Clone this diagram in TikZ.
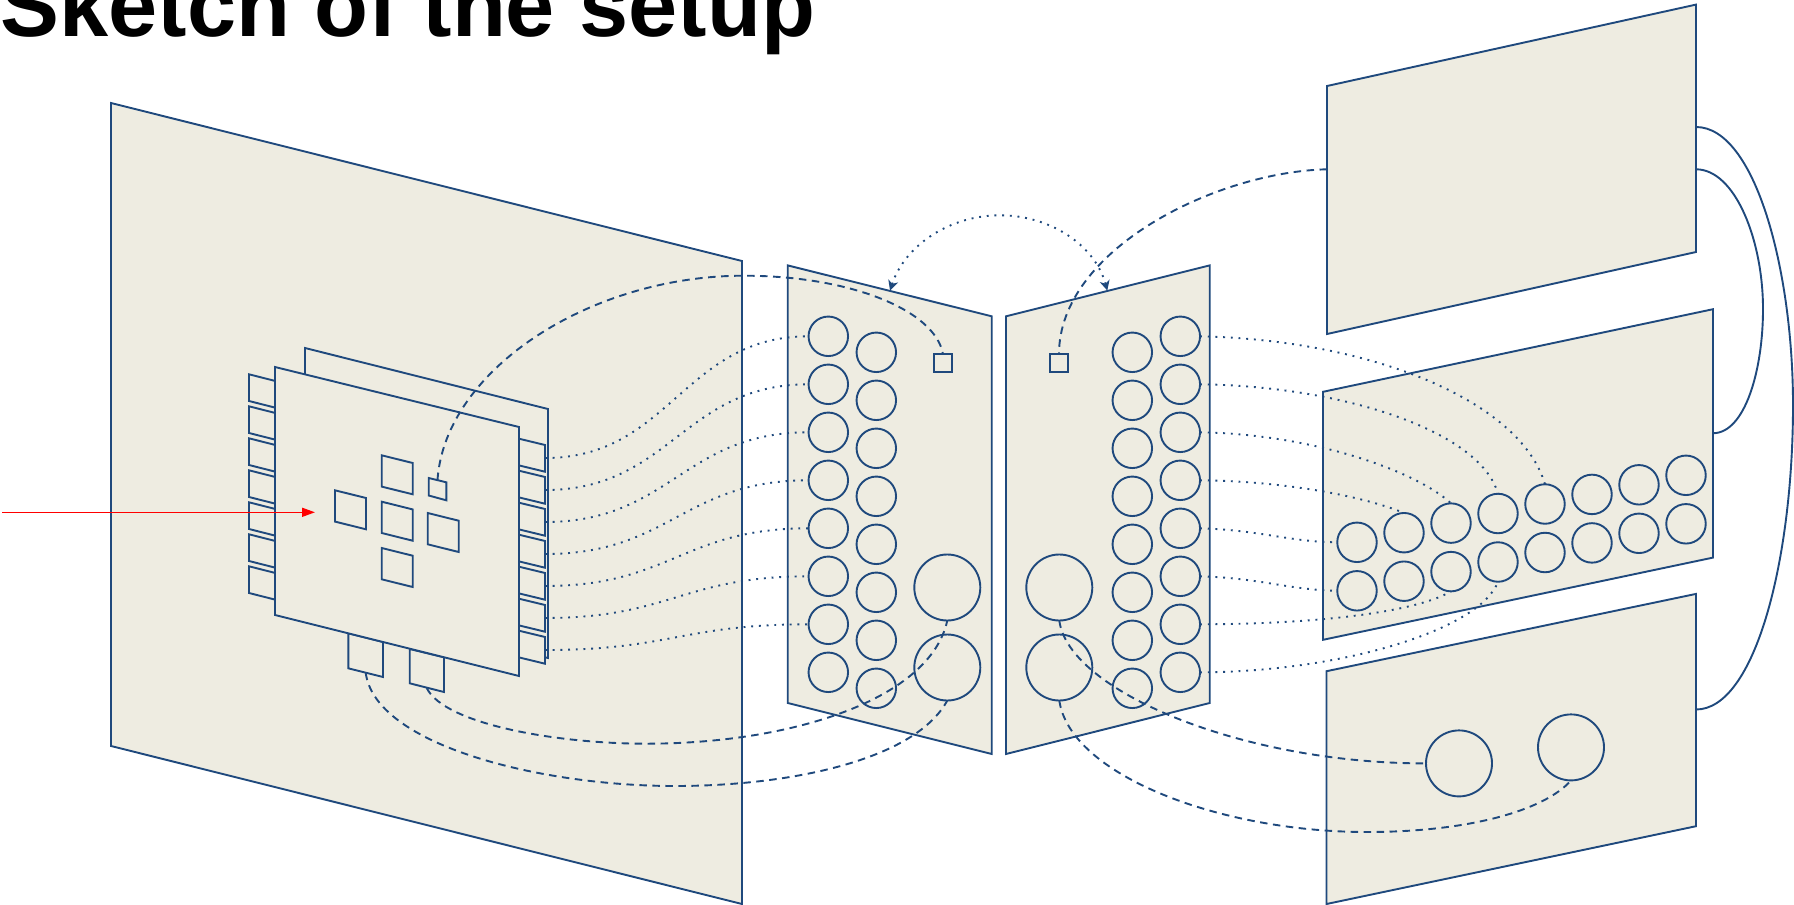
\documentclass[tikz,border=0pt]{standalone}
\usepackage{fontspec}
\setmainfont{Liberation Sans}
\usetikzlibrary{positioning, arrows.meta}
\definecolor{navy}{HTML}{1F497D}
\definecolor{paper}{HTML}{EEECE1}
\tikzset{
  panel/.style   = {draw=navy, fill=paper, line width=1.9pt},
  disc/.style    = {circle, draw=navy, line width=1.9pt, minimum size=39.5pt, inner sep=0pt, outer sep=0pt},
  bigdisc/.style = {disc, minimum size=66pt},
  port/.style    = {rectangle, draw=navy, line width=1.9pt, minimum width=18pt, minimum height=17.5pt, inner sep=0pt, outer sep=0pt},
  dashline/.style = {draw=navy, line width=1.9pt, dash pattern=on 7.5pt off 5.5pt},
  dotline/.style  = {draw=navy, line width=1.9pt, dash pattern=on 1.9pt off 5.8pt},
  wire/.style     = {draw=navy, line width=1.9pt}
}

\begin{document}
\begin{tikzpicture}[x=1pt, y=-1pt]
  \useasboundingbox (0,0) rectangle (1794,905);
  \node[anchor=base west, inner sep=0pt, font=\fontsize{88.3}{88.3}\selectfont\bfseries] (title) at (0.5,36) {Sketch of the setup};

  % large sheet and the stack on it
  \draw[panel] (111,103) -- (742,261) -- (742,904) -- (111,746) -- cycle;
  \draw[panel] (305,348) -- (548,409) -- (548,658) -- (305,597) -- cycle;
  \foreach \i in {1,...,7} {
    \draw[panel] (519,{406.7+32*\i}) -- ++(26,6.3) -- ++(0,26.7) -- ++(-26,-6.3) -- cycle;
    \coordinate (r\i) at (545,{426+32*\i});
    \draw[panel] (249,{342.3+32*\i}) -- ++(26,6.6) -- ++(0,26.7) -- ++(-26,-6.6) -- cycle;
  }
  \draw[panel] (348.3,633.3) -- (383,642) -- (383,677) -- (348.3,668.3) -- cycle;
  \draw[panel] (409.7,649) -- (444,657.3) -- (444,692) -- (409.7,683.3) -- cycle;
  \coordinate (p1) at (365.7,672.7);
  \coordinate (p2) at (426.7,688);
  \draw[panel] (275,367) -- (519,427) -- (519,676) -- (275,615) -- cycle;
  \foreach \x/\y in {335/490.3, 381.7/455.3, 381.7/501.7, 381.7/548, 427.7/513}
    \draw[panel] (\x,\y) -- ++(31,7.7) -- ++(0,31.3) -- ++(-31,-7.7) -- cycle;
  \draw[panel] (428.7,478) -- (446.3,482.3) -- (446.3,500.3) -- (428.7,495.5) -- cycle;
  \coordinate (tiny) at (437.5,480);

  % the two middle panels
  \draw[panel] (787.7,265.4) -- (991.7,316.3) -- (991.7,754) -- (787.7,703) -- cycle;
  \draw[panel] (1006,316.3) -- (1209.7,265.4) -- (1209.7,703) -- (1006,754) -- cycle;
  \coordinate (ml) at (890,290.5);
  \coordinate (mr) at (1107.3,290.5);
  \coordinate (mt) at (1000,215.3);
  \node[disc] (a1) at (828.3,336.3) {};
  \node[disc] (b1) at (876.3,352.3) {};
  \node[disc] (c1) at (1132.3,352.3) {};
  \node[disc] (d1) at (1180.3,336.3) {};
  \foreach \s in {a,b,c,d}
    \foreach \i/\j in {2/1,3/2,4/3,5/4,6/5,7/6,8/7}
      \node[disc, below=8.5pt of \s\j] (\s\i) {};
  \node[bigdisc] (e1) at (947.3,587.5) {};
  \node[bigdisc, below=14pt of e1] (e2) {};
  \node[bigdisc] (f1) at (1059.3,587.5) {};
  \node[bigdisc, below=14pt of f1] (f2) {};
  \node[port] (pa) at (943,362.8) {};
  \node[port] (pb) at (1059,362.8) {};

  % the three sheets on the right
  \draw[panel] (1327,86) -- (1696,4.6) -- (1696,252) -- (1327,334) -- cycle;
  \draw[panel] (1323,391.8) -- (1713,309.2) -- (1713,557.6) -- (1323,639.8) -- cycle;
  \draw[panel] (1326.5,671.2) -- (1696,593.9) -- (1696,826.2) -- (1326.5,904) -- cycle;
  \coordinate (s1) at (1696,127);
  \coordinate (s2) at (1696,169.3);
  \coordinate (s3) at (1713,433.2);
  \coordinate (s4) at (1696,709.5);
  \coordinate (s5) at (1327,169.3);
  \foreach \i/\x/\y in {1/1357/542.3, 2/1404/532.7, 3/1451/523.1, 4/1498/513.5, 5/1545/504, 6/1592/494.4, 7/1639/484.8, 8/1686/475.3} {
    \node[disc] (t\i) at (\x,\y) {};
    \node[disc, below=9pt of t\i] (u\i) {};
  }
  \node[bigdisc] (g1) at (1459,763.4) {};
  \node[bigdisc] (g2) at (1571,747.4) {};

  % connectors
  \draw[-{Triangle[length=13pt,width=9pt]}, red, line width=1.6pt] (2,512.3) coordinate (inray) -- (315,512.3) coordinate (outray);
  \foreach \i in {1,...,7}
    \draw[dotline] (r\i) .. controls +(125,0) and +(-125,0) .. (a\i.west);
  \foreach \i/\e/\cp/\cq in {1/t5.north/{1370,340}/{1520,400}, 2/t4.north/{1340,386}/{1480,430}, 3/t3.north/{1310,434}/{1415,470}, 4/t2.north/{1280,481}/{1360,495}, 5/t1.west/{1260,530}/{1290,542}, 6/u1.west/{1260,578}/{1290,590}, 7/u3.south/{1330,624}/{1420,610}, 8/u4.south/{1340,672}/{1480,630}}
    \draw[dotline] (d\i.east) .. controls (\cp) and (\cq) .. (\e);
  \draw[dotline, {Stealth[length=10pt,width=10pt,inset=3pt]}-{Stealth[length=10pt,width=10pt,inset=3pt]}] (ml) .. controls (905,245) and (950,215.3) .. (mt) .. controls (1050,215.3) and (1095,245) .. (mr);

  \draw[dashline] (tiny) .. controls (445,370) and (590,275.7) .. (743.7,275.7) .. controls (850,275.7) and (935,310) .. (pa.north);
  \draw[dashline] (s5) .. controls (1215,172) and (1059,250) .. (pb.north);
  \draw[dashline] (p1) .. controls (375,745) and (540,786) .. (675,786) .. controls (790,786) and (915,760) .. (e2.south);
  \draw[dashline] (p2) .. controls (445,725) and (560,743.7) .. (646,743.7) .. controls (790,743.7) and (930,700) .. (e1.south);
  \draw[dashline] (f1.south) .. controls (1068,690) and (1240,763.4) .. (g1.west);
  \draw[dashline] (f2.south) .. controls (1070,775) and (1220,832) .. (1367,832) .. controls (1470,832) and (1545,810) .. (g2.south);

  \draw[wire] (s1) .. controls (1755,127) and (1793,270) .. (1793,405) .. controls (1793,560) and (1755,709.5) .. (s4);
  \draw[wire] (s2) .. controls (1735,169.3) and (1763,240) .. (1763,309) .. controls (1763,370) and (1745,433.2) .. (s3);
\end{tikzpicture}
\end{document}
